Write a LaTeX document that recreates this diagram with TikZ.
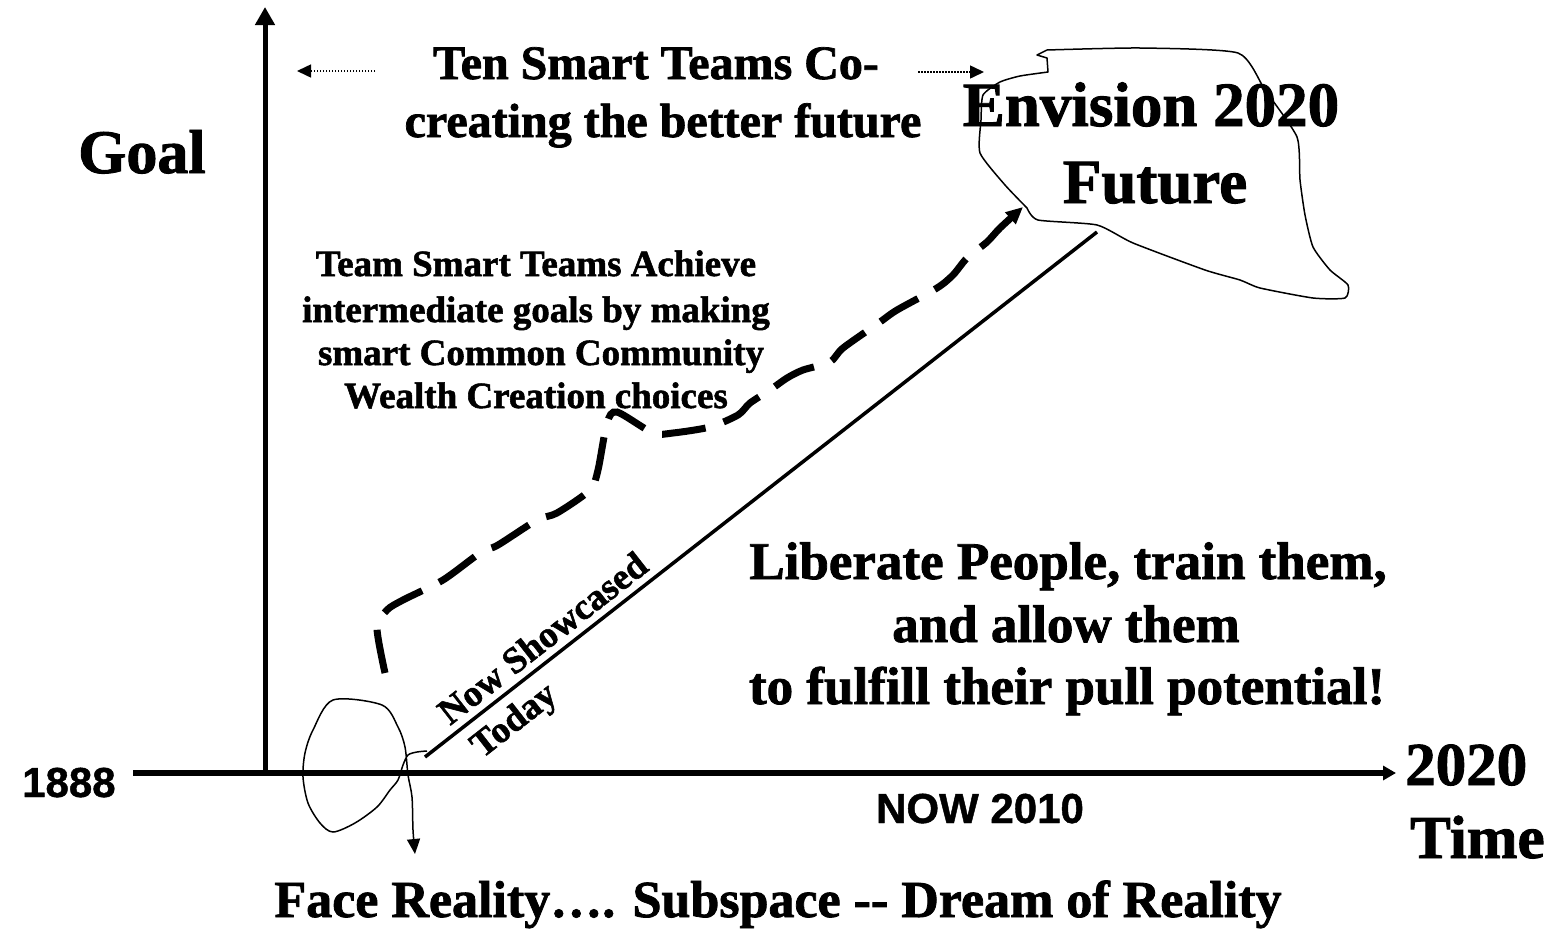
\documentclass[tikz,border=0pt]{standalone}
\usepackage{fontspec}
\setmainfont{Liberation Serif}[BoldFeatures={FakeBold=1.5}]
\newfontfamily\arialf{Liberation Sans}[BoldFeatures={FakeBold=1}]
\usetikzlibrary{arrows.meta}
\newcommand\fsz[1]{\fontsize{#1}{#1}\selectfont}
\begin{document}
\begin{tikzpicture}[x=1pt,y=-1pt,
  bt/.style={inner sep=0pt, font=\bfseries\fsz{#1}},
  st/.style={inner sep=0pt, font=\arialf\bfseries\fsz{#1}},
  axisline/.style={line width=5pt},
  thinline/.style={line width=1.5pt},
  dottedarrow/.style={line width=1.5pt, dash pattern=on 1.5pt off 1.5pt, -{Triangle[length=14pt,width=13pt]}},
  dasharrow/.style={line width=7pt, dash pattern=on 44pt off 19pt, line cap=butt, -{Triangle[length=17pt,width=15pt]}},
]
\useasboundingbox (0,0) rectangle (1549,929);
% axes
\coordinate (yb) at (265,773);
\coordinate (yt) at (265,7);
\coordinate (xl) at (133,773);
\coordinate (xr) at (1396,773);
\draw[axisline, -{Triangle[length=18pt,width=19pt]}] (yb) -- (yt);
\draw[line width=6pt, -{Triangle[length=13pt,width=14pt]}] (xl) -- (xr);

% dotted arrows
\coordinate (dl0) at (375,71);
\coordinate (dl1) at (297,71);
\coordinate (dr0) at (918,72);
\coordinate (dr1) at (984,72);
\draw[dottedarrow] (dl0) -- (dl1);
\draw[dottedarrow] (dr0) -- (dr1);

% cloud "Envision 2020 Future"
\draw[thinline, line join=round] plot[smooth, tension=0.35] coordinates {
 (1027,208) (1005,185) (980,153) (981,120) (983,95) (1000,82) (1020,76) (1048,72)}
 -- (1047,58) -- (1037,55) -- (1047,50)
 plot[smooth, tension=0.35] coordinates {(1047,50) (1140,48) (1238,53) (1265,90) (1297,137)
 (1300,180) (1305,215) (1313,247) (1330,270) (1348,285) (1345,298) (1313,298)
 (1260,288) (1240,280) (1205,270) (1133,243) (1097,225) (1038,220) (1027,208)};

% straight diagonal
\coordinate (dlow) at (425,757);
\coordinate (dhigh) at (1097,232);
\draw[line width=3.5pt] (dlow) -- (dhigh);

% small loop with arrow
\coordinate (lstart) at (427,751);
\coordinate (lend) at (415,854);
\draw[thinline, -{Triangle[length=15pt,width=13pt]}] plot[smooth, tension=0.5] coordinates {
 (lstart) (417,752) (408,755) (403,765) (398,780) (390,790) (377,807) (355,823) (333,832)
 (320,823) (308,803) (303,777) (305,753) (313,730) (333,700) (382,705) (398,727)
 (405,747) (408,775) (412,797) (413,830) (lend)};

% dashed path
\coordinate (pstart) at (385,673);
\coordinate (pend) at (1023,207);
\draw[dasharrow] plot[smooth, tension=0.45] coordinates {
 (pstart) (377,628) (387,610) (403,600) (443,580) (480,553) (498,545) (537,520) (557,513)
 (590,490) (598,470) (607,423) (617,412) (653,433) (673,433) (710,427) (738,415)
 (750,403) (770,390) (787,378) (803,370) (830,362) (843,348) (880,322) (897,310)
 (937,288) (953,275) (967,258) (987,242) (1000,228) (pend)};

% texts
\node[bt=62, anchor=base west] (goal) at (78,173) {Goal};
\node[bt=48, anchor=base] (ten1) at (656,79) {Ten Smart Teams Co-};
\node[bt=48, anchor=base] (ten2) at (663,137) {creating the better future};
\node[bt=63, anchor=base] (env1) at (1151,126) {Envision 2020};
\node[bt=63, anchor=base] (env2) at (1155,203) {Future};
\node[bt=37, anchor=base] (team1) at (536,276) {Team Smart Teams Achieve};
\node[bt=37, anchor=base] (team2) at (536,322) {intermediate goals by making};
\node[bt=37, anchor=base] (team3) at (541,365) {smart Common Community};
\node[bt=37, anchor=base] (team4) at (536,408) {Wealth Creation choices};
\node[bt=53, anchor=base] (lib1) at (1068,579) {Liberate People, train them,};
\node[bt=53, anchor=base] (lib2) at (1066,642) {and allow them};
\node[bt=53, anchor=base] (lib3) at (1067,704) {to fulfill their pull potential!};
\node[bt=61, anchor=base west] (t2020) at (1405,785) {2020};
\node[bt=61, anchor=base west] (time) at (1410,858) {Time};
\node[st=42, anchor=base west] (y1888) at (22,797) {1888};
\node[st=42, anchor=base] (now) at (980,823) {NOW 2010};
\node[bt=52, anchor=base] (face) at (778,917) {Face Reality…. Subspace -{}- Dream of Reality};
\node[bt=37, anchor=base west, rotate=38] (nows) at (450,726) {Now Showcased};
\node[bt=37, anchor=base west, rotate=38] (today) at (482,759) {Today};
\end{tikzpicture}
\end{document}
